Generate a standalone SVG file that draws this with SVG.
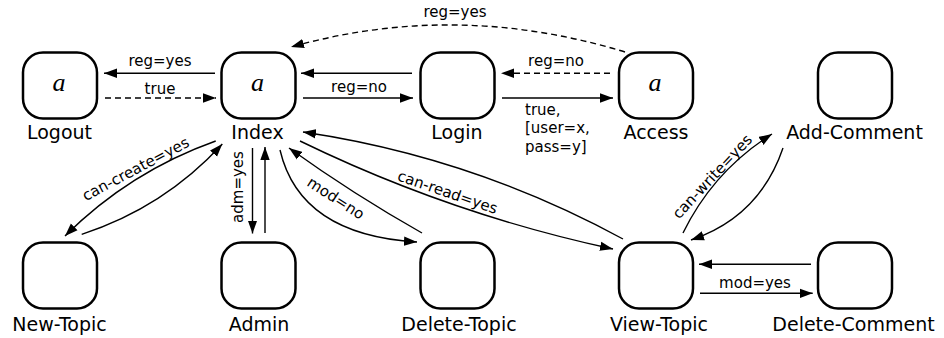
<svg xmlns="http://www.w3.org/2000/svg" width="944" height="338" viewBox="0 0 944 338">
  <defs>
    <marker id="ah" viewBox="0 0 14 10" markerWidth="14" markerHeight="10" refX="13" refY="5" orient="auto" markerUnits="userSpaceOnUse">
      <path d="M0,0.3 L13,5 L0,9.7 z" fill="#000"/>
    </marker>
    <style>
      .box { fill: #fff; stroke: #000; stroke-width: 2.5; }
      .name { font-family: "DejaVu Sans", "Liberation Sans", sans-serif; font-size: 19px; text-anchor: middle; fill: #000; }
      .var { font-family: "Liberation Serif", serif; font-style: italic; font-size: 26px; text-anchor: middle; fill: #000; }
      .e { fill: none; stroke: #000; stroke-width: 1.4; marker-end: url(#ah); }
      .dash { stroke-dasharray: 6 4; }
      .el { font-family: "DejaVu Sans", "Liberation Sans", sans-serif; font-size: 15px; fill: #000; }
      .mid { text-anchor: middle; }
    </style>
  </defs>

  <!-- connectors -->
  <g id="edges">
    <!-- Logout / Index -->
    <line class="e" x1="215" y1="73.3" x2="104" y2="73.3"/>
    <text class="el mid" x="160" y="66">reg=yes</text>
    <line class="e dash" x1="105" y1="98" x2="216" y2="98"/>
    <text class="el mid" x="160" y="94">true</text>

    <!-- Index / Login -->
    <line class="e" x1="412" y1="73.3" x2="301" y2="73.3"/>
    <line class="e" x1="303" y1="98" x2="413" y2="98"/>
    <text class="el mid" x="359" y="91.5">reg=no</text>

    <!-- Login / Access -->
    <line class="e dash" x1="610" y1="73.3" x2="501" y2="73.3"/>
    <text class="el mid" x="556" y="66">reg=no</text>
    <line class="e" x1="502" y1="98" x2="613" y2="98"/>
    <text class="el" x="525" y="114.5">true,</text>
    <text class="el" x="525" y="133">[user=x,</text>
    <text class="el" x="525" y="151.5">pass=y]</text>

    <!-- Access -> Index -->
    <path class="e dash" d="M625,52 Q456,0.5 291,47"/>
    <text class="el mid" x="455" y="17">reg=yes</text>

    <!-- Index / New-Topic -->
    <path class="e" d="M215.7,141 Q129.7,171.6 65,236"/>
    <path class="e" d="M81.7,234.3 Q163.9,207.6 222.3,144"/>
    <text class="el mid" transform="translate(138,173.5) rotate(-28)">can-create=yes</text>

    <!-- Index / Admin -->
    <line class="e" x1="252.5" y1="148" x2="252.5" y2="233.5"/>
    <line class="e" x1="265" y1="233" x2="265" y2="147"/>
    <text class="el mid" transform="translate(243,187) rotate(-90)">adm=yes</text>

    <!-- Index / Delete-Topic -->
    <path class="e" d="M280,150 Q300,235 417,242"/>
    <path class="e" d="M422,233 Q353,194 289,148"/>
    <text class="el mid" transform="translate(333,202.5) rotate(33)">mod=no</text>

    <!-- Index / View-Topic -->
    <path class="e" d="M623,239 Q472.5,157 303,132"/>
    <path class="e" d="M300,141 Q450,214 613,249"/>
    <text class="el mid" transform="translate(446,197) rotate(19)">can-read=yes</text>

    <!-- View-Topic / Add-Comment -->
    <path class="e" d="M683,233 Q713.4,170.8 772,134"/>
    <path class="e" d="M783,148 Q759.6,216.6 691,240"/>
    <text class="el mid" transform="translate(716,180) rotate(-47)">can-write=yes</text>

    <!-- View-Topic / Delete-Comment -->
    <line class="e" x1="811" y1="264.3" x2="699" y2="264.3"/>
    <line class="e" x1="700" y1="293.3" x2="812.7" y2="293.3"/>
    <text class="el mid" x="755" y="288">mod=yes</text>
  </g>

  <!-- top row -->
  <g id="logout">
    <rect class="box" x="23" y="52.5" width="74" height="66" rx="20"/>
    <text class="var" x="59" y="91">a</text>
    <text class="name" x="59.5" y="139">Logout</text>
  </g>
  <g id="index">
    <rect class="box" x="221.5" y="52.5" width="74" height="66" rx="20"/>
    <text class="var" x="257.5" y="91">a</text>
    <text class="name" x="257.5" y="139">Index</text>
  </g>
  <g id="login">
    <rect class="box" x="420.5" y="52.5" width="74" height="66" rx="20"/>
    <text class="name" x="457" y="139">Login</text>
  </g>
  <g id="access">
    <rect class="box" x="619" y="52.5" width="74" height="66" rx="20"/>
    <text class="var" x="655" y="91">a</text>
    <text class="name" x="656" y="139">Access</text>
  </g>
  <g id="add-comment">
    <rect class="box" x="818" y="52.5" width="74" height="66" rx="20"/>
    <text class="name" x="854.5" y="139">Add-Comment</text>
  </g>

  <!-- bottom row -->
  <g id="new-topic">
    <rect class="box" x="23" y="242.5" width="74" height="66" rx="20"/>
    <text class="name" x="59.5" y="331">New-Topic</text>
  </g>
  <g id="admin">
    <rect class="box" x="221.5" y="242.5" width="74" height="66" rx="20"/>
    <text class="name" x="259" y="331">Admin</text>
  </g>
  <g id="delete-topic">
    <rect class="box" x="420.5" y="242.5" width="74" height="66" rx="20"/>
    <text class="name" x="459" y="331">Delete-Topic</text>
  </g>
  <g id="view-topic">
    <rect class="box" x="619" y="242.5" width="74" height="66" rx="20"/>
    <text class="name" x="659" y="331">View-Topic</text>
  </g>
  <g id="delete-comment">
    <rect class="box" x="818" y="242.5" width="74" height="66" rx="20"/>
    <text class="name" x="853.5" y="331">Delete-Comment</text>
  </g>
</svg>
